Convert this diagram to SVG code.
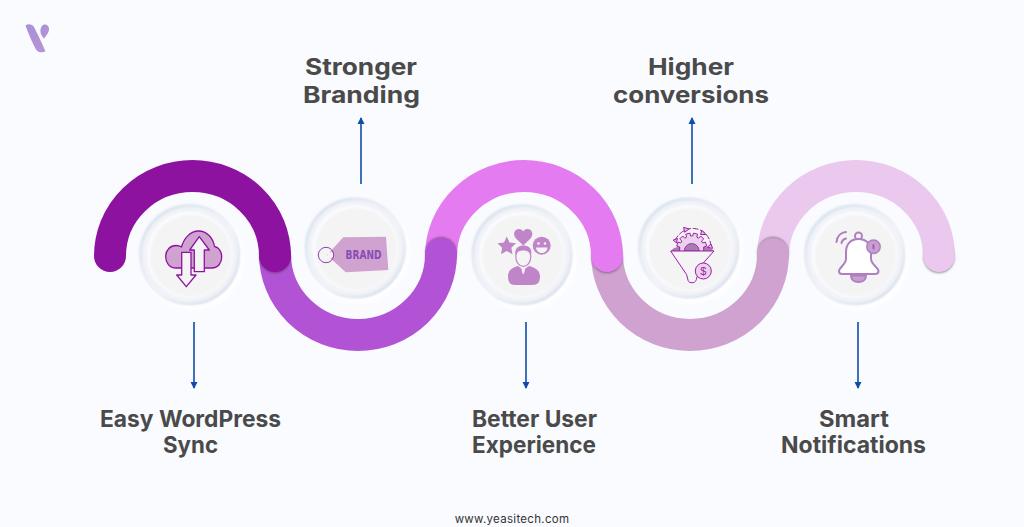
<svg xmlns="http://www.w3.org/2000/svg" xmlns:xlink="http://www.w3.org/1999/xlink" width="1024" height="527" viewBox="0 0 1024 527">
<style>
.lbl{font-family:"Inter","Liberation Sans",sans-serif;font-weight:700;font-size:23px;fill:#4a4a4a;text-anchor:middle}
.arc{fill:none;stroke-width:32;stroke-linecap:round}
.conn{stroke:#0d4fa8;stroke-width:1.6;fill:none;marker-end:url(#ah)}
.cl{stroke:#8e12a0;stroke-width:1.3;stroke-linejoin:round}
.bl{stroke:#b07fc0;stroke-width:2;stroke-linejoin:round;stroke-linecap:round}
.fu{stroke:#9a20a8;stroke-width:1;stroke-linejoin:round;stroke-linecap:round}
.pp{fill:#c084c8}
.sh{fill:#333;opacity:.5}
</style>
<defs>
<marker id="ah" markerUnits="userSpaceOnUse" markerWidth="8" markerHeight="8" refX="6" refY="4" orient="auto"><path d="M0 0.5L7 4L0 7.5Z" fill="#0d4fa8"/></marker>
<filter id="b1" x="-30%" y="-30%" width="160%" height="160%"><feGaussianBlur stdDeviation="1"/></filter>
<filter id="b2" x="-30%" y="-30%" width="160%" height="160%"><feGaussianBlur stdDeviation="2"/></filter>
<linearGradient id="lg" x1="0" y1="0" x2="1" y2="1"><stop offset="0" stop-color="#a990d8"/><stop offset="1" stop-color="#b594d4"/></linearGradient>
<linearGradient id="rg" x1="0.15" y1="0.1" x2="0.85" y2="0.95"><stop offset="0" stop-color="#dbe3ee"/><stop offset="0.55" stop-color="#f0f3f8"/><stop offset="1" stop-color="#d9e1ec"/></linearGradient>
<g id="disc">
<circle cx="3" cy="4" r="51" fill="#fff" filter="url(#b2)"/>
<circle r="50.5" fill="#f1f3f8"/>
<circle r="49" fill="none" stroke="url(#rg)" stroke-width="3" filter="url(#b1)"/>
<circle r="43" fill="#fbfcfe" filter="url(#b1)"/>
<circle cx="1" cy="1" r="41" fill="#f4f4f5" filter="url(#b1)"/>
</g>
</defs>
<rect width="1024" height="527" fill="#f9fbff"/>
<g id="logo">
<path d="M25.500 25.500C28 23.500 32 24 34 27C37 33 41 41 45.500 51.500C42 53 38 52.500 36 49.500C32 42 28 33 25.500 25.500Z" fill="url(#lg)"/>
<path d="M44 24.500C47 24 49.500 26.500 49 30C48.500 33 46 36 44 38.500C41.500 36 40 33 40.500 29.500C41 27 42 25.500 44 24.500Z" fill="url(#lg)"/>
</g>
<g id="wave">
<path class="arc" stroke="#ebc9ef" d="M773 256A83 80 0 0 1 939 256"/>
<circle class="sh" cx="939" cy="257.500" r="15.500" filter="url(#b1)"/>
<path class="arc" stroke="#ebc9ef" d="M939 255.500V256"/>
<circle class="sh" cx="773" cy="252.500" r="15.500" filter="url(#b1)"/>
<path class="arc" stroke="#cfa2cf" d="M607 254A83 81 0 0 0 773 254"/>
<circle class="sh" cx="607" cy="257.500" r="15.500" filter="url(#b1)"/>
<path class="arc" stroke="#e57bf0" d="M441 256A83 80 0 0 1 607 256"/>
<circle class="sh" cx="441" cy="252.500" r="15.500" filter="url(#b1)"/>
<path class="arc" stroke="#b252d4" d="M275 254A83 81 0 0 0 441 254"/>
<circle class="sh" cx="275" cy="257.500" r="15.500" filter="url(#b1)"/>
<path class="arc" stroke="#8e12a0" d="M110 256A82.500 80 0 0 1 275 256"/>
</g>
<g id="connectors">
<path class="conn" d="M194 322V388"/>
<path class="conn" d="M361 184V118"/>
<path class="conn" d="M526 322V388"/>
<path class="conn" d="M692 184V118"/>
<path class="conn" d="M858 322V388"/>
</g>
<g id="node-sync">
<use xlink:href="#disc" href="#disc" x="189.700" y="254.700"/>
<path class="cl" fill="#cfa2cf" d="M176 268C169 268 165.700 262 165.700 256.500C165.700 250 170.500 245.500 176 245.500C178 245.500 180 246 181.500 247C184 238 190.500 231 198.500 231C207 231 213 238 214.500 246.500C219 247 221.700 252 221.700 257C221.700 263 218 268 212 268Z"/>
<path class="cl" fill="#f4f4f5" d="M199.300 236.700L209.300 250H204.300V271.700H194.300V250H189.700Z"/>
<path class="cl" fill="#f4f4f5" d="M181.700 252.300H191V275H196L186.300 286.700L176.700 275H181.700Z"/>
<text class="lbl" x="190.500" y="427" textLength="181" lengthAdjust="spacingAndGlyphs">Easy WordPress</text>
<text class="lbl" x="190.500" y="453" textLength="55" lengthAdjust="spacingAndGlyphs">Sync</text>
</g>
<g id="node-branding">
<use xlink:href="#disc" href="#disc" x="355.300" y="248"/>
<path fill="#cfa2cf" d="M327 255L343.300 237.300L386 236.700L388.300 270L345.700 272.300Z"/>
<circle cx="330.500" cy="255" r="3" fill="#f4f4f5"/>
<circle cx="326" cy="255" r="7.700" fill="none" stroke="#8e3fb0" stroke-width="1"/>
<text x="345.500" y="259" font-family="'DejaVu Sans',sans-serif" font-weight="700" font-size="11.500" fill="#8a4bb5" textLength="36" lengthAdjust="spacingAndGlyphs">BRAND</text>
<text class="lbl" x="361" y="75" textLength="112" lengthAdjust="spacingAndGlyphs">Stronger</text>
<text class="lbl" x="361.500" y="103" textLength="117" lengthAdjust="spacingAndGlyphs">Branding</text>
</g>
<g id="node-experience">
<use xlink:href="#disc" href="#disc" x="522" y="254.700"/>
<path class="pp" d="M523.300 245.500L516 238.500C512 234 515 229 519 229C521 229 522.500 230 523.300 231.500C524 230 525.500 229 527.500 229C531.500 229 534.500 234 530.500 238.500Z"/>
<path class="pp" d="M506.700 236.500L509.500 242.500L516 243.300L511.300 247.800L512.500 254.300L506.700 251.100L501 254.300L502.100 247.800L497.500 243.300L504 242.500Z"/>
<circle class="pp" cx="541.700" cy="245.700" r="9"/>
<circle cx="538.500" cy="243.500" r="1.300" fill="#f4f4f5"/>
<circle cx="545" cy="243.500" r="1.300" fill="#f4f4f5"/>
<path d="M536 247.500H547.500C547 251.500 544.500 253 541.700 253C539 253 536.500 251.500 536 247.500Z" fill="#f4f4f5"/>
<path class="pp" d="M508 276C508 270 513 267.500 518 266L523.300 270L529 266C534 267.500 540 270 540 276C540 282 538 285 532 285H515C510 285 508 282 508 276Z"/>
<path d="M521.500 268.500H525L524.500 272L523.300 274.500L522 272Z" fill="#f4f4f5"/>
<ellipse cx="523.300" cy="256.800" rx="7.500" ry="9.500" fill="#f4f4f5" stroke="#c084c8" stroke-width="1.200"/>
<path class="pp" d="M515.500 255C514 247 520 245.500 524 245.500C529 245.500 532.500 249 531 255C529.500 251 525 250 522 250.500C519 251 516.500 252 515.500 255Z"/>
<text class="lbl" x="534.500" y="427" textLength="125" lengthAdjust="spacingAndGlyphs">Better User</text>
<text class="lbl" x="534" y="453" textLength="124" lengthAdjust="spacingAndGlyphs">Experience</text>
</g>
<g id="node-conversions">
<use xlink:href="#disc" href="#disc" x="688.700" y="248"/>
<path d="M671 251C673 247 680 246 684 248L699 248C704 246 711 247 714 251Z" fill="#a87cb0"/>
<path class="fu" fill="#ecd0ee" d="M679.700 251V247L676.800 246.200L677.900 242.100L680.800 242.900L681.900 241.100L679.700 239L682.700 236L684.800 238.200L686.600 237.100L685.800 234.200L689.900 233.100L690.700 236H692.700L693.500 233.100L697.600 234.200L696.800 237.100L698.600 238.200L700.700 236L703.700 239L701.500 241.100L702.600 242.900L705.500 242.100L706.600 246.200L703.700 247V251Z"/>
<path d="M684.200 251A7.500 7.500 0 1 1 699.200 251Z" fill="#a87cb0" stroke="#9a20a8" stroke-width=".8"/>
<path class="fu" fill="none" stroke-dasharray="5 2.500" d="M675 240C680 231 688 228 694 228.500C703 229 710 236 711 246"/>
<path class="fu" fill="#e6b8ea" d="M673.500 240L677.500 238.500L676.500 242.500Z M684 227.500L689 229L685 232Z M702 230.500L706 234.500L701 234.500Z M707.500 247L711 244L712.500 248Z"/>
<path class="fu" fill="#f4f4f5" d="M671 251H714L701.500 265L696.700 278C696 282 694 283 691 282.700C689 282.500 688 281 688 280L686.700 275Z"/>
<circle cx="703.300" cy="271" r="8" fill="#ecd0ee" stroke="#9a20a8" stroke-width="1"/>
<text x="703.300" y="275" font-family="'Liberation Sans',sans-serif" font-size="11" fill="#9a20a8" text-anchor="middle">$</text>
<text class="lbl" x="691" y="75" textLength="86" lengthAdjust="spacingAndGlyphs">Higher</text>
<text class="lbl" x="691" y="103" textLength="156" lengthAdjust="spacingAndGlyphs">conversions</text>
</g>
<g id="node-notifications">
<use xlink:href="#disc" href="#disc" x="854.700" y="254.700"/>
<path class="bl" fill="#c89fd0" d="M851 275.500H866C866 280 862.500 282 858.500 282C854.500 282 851 280 851 275.500Z"/>
<circle class="bl" cx="858.500" cy="236" r="3.500" fill="none"/>
<path class="bl" fill="#fff" d="M858.500 239C850 239 846 245 846 252V259C846 264 839 268 839 271C839 273 840 274 842 274H875C877 274 878.500 273 878.500 271C878.500 268 871 264 871 259V252C871 245 867 239 858.500 239Z"/>
<circle cx="873.500" cy="246.700" r="6.700" fill="#c89fd0" stroke="#b07fc0" stroke-width="1.500"/>
<ellipse cx="873.500" cy="246.700" rx="1.100" ry="3" fill="#8f6aa5"/>
<path class="bl" fill="none" d="M836.500 242C837 236 841 232.500 846 232"/>
<path class="bl" fill="none" d="M841.500 243C842 240.500 843.500 239 846 238.500"/>
<text class="lbl" x="854" y="427" textLength="70" lengthAdjust="spacingAndGlyphs">Smart</text>
<text class="lbl" x="853.500" y="453" textLength="145" lengthAdjust="spacingAndGlyphs">Notifications</text>
</g>
<text id="footer" x="512" y="523" font-family="Inter,'Liberation Sans',sans-serif" font-size="11.500" fill="#333" text-anchor="middle" letter-spacing=".3">www.yeasitech.com</text>
</svg>
